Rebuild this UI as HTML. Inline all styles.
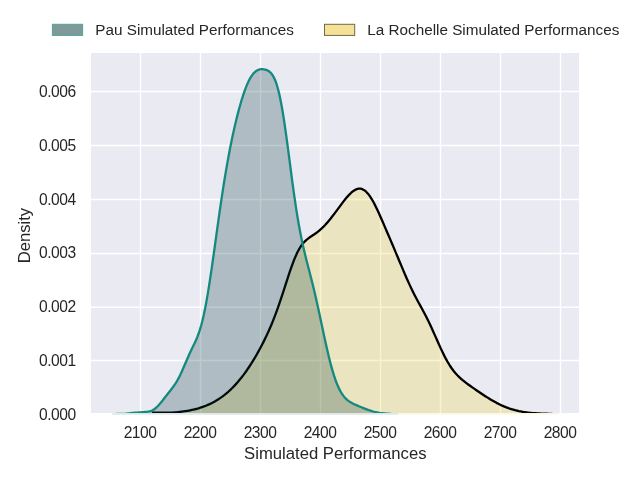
<!DOCTYPE html>
<html lang="en">
<head>
<meta charset="utf-8">
<title>Simulated Performances density</title>
<style>
html,body{margin:0;padding:0;background:#fff;}
body{width:640px;height:480px;overflow:hidden;}
svg{display:block;}
svg text{font-family:"Liberation Sans","DejaVu Sans",sans-serif;fill:#262626;}
.tick text{font-size:15.6px;}
.lab{font-size:16.67px;}
.leg text{font-size:15.28px;}
.grid line{stroke:#fff;stroke-width:1.39;}
</style>
</head>
<body>
<svg width="640" height="480" viewBox="0 0 640 480">
<rect x="0" y="0" width="640" height="480" fill="#ffffff"/>
<rect x="91" y="53" width="488" height="360.0" fill="#eaeaf2"/>
<g class="grid"><line x1="140.5" y1="53" x2="140.5" y2="413.0"/><line x1="200.5" y1="53" x2="200.5" y2="413.0"/><line x1="260.5" y1="53" x2="260.5" y2="413.0"/><line x1="320.5" y1="53" x2="320.5" y2="413.0"/><line x1="380.5" y1="53" x2="380.5" y2="413.0"/><line x1="440.5" y1="53" x2="440.5" y2="413.0"/><line x1="500.5" y1="53" x2="500.5" y2="413.0"/><line x1="560.5" y1="53" x2="560.5" y2="413.0"/><line x1="91" y1="360.5" x2="579" y2="360.5"/><line x1="91" y1="307.3" x2="579" y2="307.3"/><line x1="91" y1="253.5" x2="579" y2="253.5"/><line x1="91" y1="199.5" x2="579" y2="199.5"/><line x1="91" y1="145.5" x2="579" y2="145.5"/><line x1="91" y1="91.5" x2="579" y2="91.5"/></g>
<clipPath id="axclip"><rect x="91" y="53" width="488" height="360.0"/></clipPath>
<line x1="112.3" y1="413.95" x2="150" y2="413.95" stroke="#dbe9e7" stroke-width="1.7"/>
<line x1="150" y1="413.95" x2="398.2" y2="413.95" stroke="#dfe7ea" stroke-width="1.7"/>
<line x1="398.2" y1="413.95" x2="558.5" y2="413.95" stroke="#fcf8e6" stroke-width="1.7"/>
<g clip-path="url(#axclip)">
<path d="M150.00,413.69 L151.86,413.65 L153.73,413.60 L155.59,413.55 L157.45,413.49 L159.32,413.42 L161.18,413.35 L163.04,413.26 L164.90,413.17 L166.77,413.06 L168.63,412.95 L170.49,412.82 L172.36,412.68 L174.22,412.52 L176.08,412.34 L177.95,412.15 L179.81,411.93 L181.67,411.70 L183.53,411.44 L185.40,411.16 L187.26,410.85 L189.12,410.51 L190.99,410.13 L192.85,409.73 L194.71,409.28 L196.58,408.80 L198.44,408.28 L200.30,407.71 L202.16,407.09 L204.03,406.43 L205.89,405.71 L207.75,404.93 L209.62,404.10 L211.48,403.20 L213.34,402.23 L215.21,401.20 L217.07,400.09 L218.93,398.91 L220.79,397.65 L222.66,396.31 L224.52,394.88 L226.38,393.37 L228.25,391.76 L230.11,390.06 L231.97,388.27 L233.84,386.37 L235.70,384.38 L237.56,382.28 L239.42,380.08 L241.29,377.77 L243.15,375.36 L245.01,372.84 L246.88,370.22 L248.74,367.48 L250.60,364.64 L252.47,361.69 L254.33,358.64 L256.19,355.47 L258.05,352.19 L259.92,348.79 L261.78,345.28 L263.64,341.62 L265.51,337.83 L267.37,333.88 L269.23,329.75 L271.10,325.43 L272.96,320.89 L274.82,316.13 L276.68,311.13 L278.55,305.90 L280.41,300.45 L282.27,294.83 L284.14,289.09 L286.00,283.29 L287.86,277.53 L289.73,271.92 L291.59,266.55 L293.45,261.53 L295.32,256.94 L297.18,252.84 L299.04,249.27 L300.90,246.22 L302.77,243.67 L304.63,241.56 L306.49,239.81 L308.36,238.33 L310.22,237.02 L312.08,235.79 L313.95,234.57 L315.81,233.29 L317.67,231.91 L319.53,230.40 L321.40,228.73 L323.26,226.92 L325.12,224.97 L326.99,222.89 L328.85,220.69 L330.71,218.40 L332.58,216.03 L334.44,213.59 L336.30,211.11 L338.16,208.61 L340.03,206.09 L341.89,203.61 L343.75,201.17 L345.62,198.82 L347.48,196.61 L349.34,194.56 L351.21,192.74 L353.07,191.19 L354.93,189.97 L356.79,189.11 L358.66,188.67 L360.52,188.69 L362.38,189.18 L364.25,190.18 L366.11,191.68 L367.97,193.67 L369.84,196.13 L371.70,199.01 L373.56,202.28 L375.42,205.88 L377.29,209.73 L379.15,213.79 L381.01,217.98 L382.88,222.26 L384.74,226.59 L386.60,230.95 L388.47,235.31 L390.33,239.67 L392.19,244.04 L394.05,248.42 L395.92,252.83 L397.78,257.26 L399.64,261.71 L401.51,266.15 L403.37,270.58 L405.23,274.94 L407.10,279.22 L408.96,283.37 L410.82,287.37 L412.68,291.21 L414.55,294.90 L416.41,298.46 L418.27,301.92 L420.14,305.33 L422.00,308.74 L423.86,312.21 L425.73,315.78 L427.59,319.48 L429.45,323.32 L431.32,327.31 L433.18,331.42 L435.04,335.61 L436.90,339.83 L438.77,344.02 L440.63,348.14 L442.49,352.10 L444.36,355.88 L446.22,359.43 L448.08,362.72 L449.95,365.74 L451.81,368.50 L453.67,370.99 L455.53,373.25 L457.40,375.29 L459.26,377.15 L461.12,378.86 L462.99,380.45 L464.85,381.94 L466.71,383.35 L468.58,384.72 L470.44,386.05 L472.30,387.36 L474.16,388.65 L476.03,389.93 L477.89,391.20 L479.75,392.47 L481.62,393.72 L483.48,394.96 L485.34,396.18 L487.21,397.38 L489.07,398.55 L490.93,399.68 L492.79,400.78 L494.66,401.84 L496.52,402.86 L498.38,403.82 L500.25,404.74 L502.11,405.61 L503.97,406.42 L505.84,407.18 L507.70,407.88 L509.56,408.54 L511.42,409.14 L513.29,409.69 L515.15,410.20 L517.01,410.65 L518.88,411.07 L520.74,411.44 L522.60,411.77 L524.47,412.07 L526.33,412.33 L528.19,412.57 L530.05,412.77 L531.92,412.95 L533.78,413.11 L535.64,413.24 L537.51,413.36 L539.37,413.46 L541.23,413.55 L543.10,413.62 L544.96,413.69 L546.82,413.74 L548.68,413.79 L550.55,413.82 L552.41,413.85 L554.27,413.88 L556.14,413.90 L558.00,413.92 L558.00,414.0 L150.00,414.0 Z" fill="#f0d22e" fill-opacity="0.25" stroke="none"/>
<path d="M151.86,412.70 L153.73,412.70 L155.59,412.70 L157.45,412.70 L159.32,412.70 L161.18,412.70 L163.04,412.70 L164.90,412.70 L166.77,412.70 L168.63,412.70 L170.49,412.70 L172.36,412.68 L174.22,412.52 L176.08,412.34 L177.95,412.15 L179.81,411.93 L181.67,411.70 L183.53,411.44 L185.40,411.16 L187.26,410.85 L189.12,410.51 L190.99,410.13 L192.85,409.73 L194.71,409.28 L196.58,408.80 L198.44,408.28 L200.30,407.71 L202.16,407.09 L204.03,406.43 L205.89,405.71 L207.75,404.93 L209.62,404.10 L211.48,403.20 L213.34,402.23 L215.21,401.20 L217.07,400.09 L218.93,398.91 L220.79,397.65 L222.66,396.31 L224.52,394.88 L226.38,393.37 L228.25,391.76 L230.11,390.06 L231.97,388.27 L233.84,386.37 L235.70,384.38 L237.56,382.28 L239.42,380.08 L241.29,377.77 L243.15,375.36 L245.01,372.84 L246.88,370.22 L248.74,367.48 L250.60,364.64 L252.47,361.69 L254.33,358.64 L256.19,355.47 L258.05,352.19 L259.92,348.79 L261.78,345.28 L263.64,341.62 L265.51,337.83 L267.37,333.88 L269.23,329.75 L271.10,325.43 L272.96,320.89 L274.82,316.13 L276.68,311.13 L278.55,305.90 L280.41,300.45 L282.27,294.83 L284.14,289.09 L286.00,283.29 L287.86,277.53 L289.73,271.92 L291.59,266.55 L293.45,261.53 L295.32,256.94 L297.18,252.84 L299.04,249.27 L300.90,246.22 L302.77,243.67 L304.63,241.56 L306.49,239.81 L308.36,238.33 L310.22,237.02 L312.08,235.79 L313.95,234.57 L315.81,233.29 L317.67,231.91 L319.53,230.40 L321.40,228.73 L323.26,226.92 L325.12,224.97 L326.99,222.89 L328.85,220.69 L330.71,218.40 L332.58,216.03 L334.44,213.59 L336.30,211.11 L338.16,208.61 L340.03,206.09 L341.89,203.61 L343.75,201.17 L345.62,198.82 L347.48,196.61 L349.34,194.56 L351.21,192.74 L353.07,191.19 L354.93,189.97 L356.79,189.11 L358.66,188.67 L360.52,188.69 L362.38,189.18 L364.25,190.18 L366.11,191.68 L367.97,193.67 L369.84,196.13 L371.70,199.01 L373.56,202.28 L375.42,205.88 L377.29,209.73 L379.15,213.79 L381.01,217.98 L382.88,222.26 L384.74,226.59 L386.60,230.95 L388.47,235.31 L390.33,239.67 L392.19,244.04 L394.05,248.42 L395.92,252.83 L397.78,257.26 L399.64,261.71 L401.51,266.15 L403.37,270.58 L405.23,274.94 L407.10,279.22 L408.96,283.37 L410.82,287.37 L412.68,291.21 L414.55,294.90 L416.41,298.46 L418.27,301.92 L420.14,305.33 L422.00,308.74 L423.86,312.21 L425.73,315.78 L427.59,319.48 L429.45,323.32 L431.32,327.31 L433.18,331.42 L435.04,335.61 L436.90,339.83 L438.77,344.02 L440.63,348.14 L442.49,352.10 L444.36,355.88 L446.22,359.43 L448.08,362.72 L449.95,365.74 L451.81,368.50 L453.67,370.99 L455.53,373.25 L457.40,375.29 L459.26,377.15 L461.12,378.86 L462.99,380.45 L464.85,381.94 L466.71,383.35 L468.58,384.72 L470.44,386.05 L472.30,387.36 L474.16,388.65 L476.03,389.93 L477.89,391.20 L479.75,392.47 L481.62,393.72 L483.48,394.96 L485.34,396.18 L487.21,397.38 L489.07,398.55 L490.93,399.68 L492.79,400.78 L494.66,401.84 L496.52,402.86 L498.38,403.82 L500.25,404.74 L502.11,405.61 L503.97,406.42 L505.84,407.18 L507.70,407.88 L509.56,408.54 L511.42,409.14 L513.29,409.69 L515.15,410.20 L517.01,410.65 L518.88,411.07 L520.74,411.44 L522.60,411.77 L524.47,412.07 L526.33,412.33 L528.19,412.57 L530.05,412.77 L531.92,412.95 L533.78,413.07 L535.64,413.19 L537.51,413.31 L539.37,413.43 L541.23,413.55 L543.10,413.62 L544.96,413.69 L546.82,413.74 L548.68,413.79 L550.55,413.82 L552.41,413.85" fill="none" stroke="#000000" stroke-width="2.3" stroke-linejoin="round" stroke-linecap="butt"/>
<path d="M112.50,414.00 L113.80,414.00 L115.11,413.99 L116.41,413.99 L117.71,413.98 L119.02,413.96 L120.32,413.94 L121.63,413.90 L122.93,413.85 L124.23,413.78 L125.54,413.69 L126.84,413.57 L128.14,413.43 L129.45,413.28 L130.75,413.13 L132.05,412.97 L133.36,412.83 L134.66,412.71 L135.97,412.61 L137.27,412.54 L138.57,412.47 L139.88,412.39 L141.18,412.29 L142.48,412.16 L143.79,412.02 L145.09,411.89 L146.39,411.79 L147.70,411.67 L149.00,411.49 L150.31,411.19 L151.61,410.72 L152.91,410.07 L154.22,409.23 L155.52,408.22 L156.82,407.05 L158.13,405.73 L159.43,404.30 L160.74,402.77 L162.04,401.16 L163.34,399.51 L164.65,397.83 L165.95,396.15 L167.25,394.48 L168.56,392.82 L169.86,391.17 L171.16,389.50 L172.47,387.79 L173.77,386.00 L175.08,384.10 L176.38,382.05 L177.68,379.82 L178.99,377.40 L180.29,374.79 L181.59,372.01 L182.90,369.09 L184.20,366.07 L185.50,363.01 L186.81,359.97 L188.11,356.99 L189.42,354.09 L190.72,351.29 L192.02,348.57 L193.33,345.87 L194.63,343.14 L195.93,340.28 L197.24,337.19 L198.54,333.76 L199.84,329.90 L201.15,325.52 L202.45,320.55 L203.76,314.95 L205.06,308.71 L206.36,301.85 L207.67,294.39 L208.97,286.40 L210.27,277.94 L211.58,269.12 L212.88,260.01 L214.18,250.72 L215.49,241.33 L216.79,231.93 L218.10,222.60 L219.40,213.41 L220.70,204.42 L222.01,195.66 L223.31,187.19 L224.61,179.02 L225.92,171.16 L227.22,163.64 L228.53,156.43 L229.83,149.55 L231.13,142.97 L232.44,136.70 L233.74,130.71 L235.04,124.99 L236.35,119.54 L237.65,114.35 L238.95,109.41 L240.26,104.72 L241.56,100.29 L242.87,96.12 L244.17,92.23 L245.47,88.63 L246.78,85.33 L248.08,82.34 L249.38,79.68 L250.69,77.34 L251.99,75.33 L253.29,73.64 L254.60,72.26 L255.90,71.17 L257.21,70.35 L258.51,69.77 L259.81,69.40 L261.12,69.21 L262.42,69.17 L263.72,69.28 L265.03,69.52 L266.33,69.91 L267.63,70.47 L268.94,71.25 L270.24,72.31 L271.55,73.72 L272.85,75.58 L274.15,77.97 L275.46,80.98 L276.76,84.71 L278.06,89.21 L279.37,94.54 L280.67,100.72 L281.97,107.72 L283.28,115.50 L284.58,123.99 L285.89,133.07 L287.19,142.61 L288.49,152.46 L289.80,162.46 L291.10,172.45 L292.40,182.28 L293.71,191.82 L295.01,200.95 L296.32,209.61 L297.62,217.73 L298.92,225.30 L300.23,232.33 L301.53,238.85 L302.83,244.92 L304.14,250.61 L305.44,256.01 L306.74,261.21 L308.05,266.28 L309.35,271.32 L310.66,276.38 L311.96,281.54 L313.26,286.82 L314.57,292.27 L315.87,297.87 L317.17,303.65 L318.48,309.56 L319.78,315.59 L321.08,321.69 L322.39,327.81 L323.69,333.92 L325.00,339.94 L326.30,345.83 L327.60,351.53 L328.91,357.00 L330.21,362.21 L331.51,367.10 L332.82,371.67 L334.12,375.88 L335.42,379.74 L336.73,383.22 L338.03,386.35 L339.34,389.14 L340.64,391.59 L341.94,393.74 L343.25,395.61 L344.55,397.22 L345.85,398.61 L347.16,399.82 L348.46,400.86 L349.76,401.76 L351.07,402.56 L352.37,403.28 L353.68,403.94 L354.98,404.55 L356.28,405.13 L357.59,405.68 L358.89,406.23 L360.19,406.77 L361.50,407.30 L362.80,407.82 L364.11,408.34 L365.41,408.85 L366.71,409.34 L368.02,409.82 L369.32,410.27 L370.62,410.71 L371.93,411.11 L373.23,411.49 L374.53,411.83 L375.84,412.14 L377.14,412.42 L378.45,412.67 L379.75,412.89 L381.05,413.08 L382.36,413.25 L383.66,413.39 L384.96,413.51 L386.27,413.61 L387.57,413.69 L388.87,413.76 L390.18,413.81 L391.48,413.85 L392.79,413.89 L394.09,413.91 L395.39,413.94 L396.70,413.95 L398.00,413.96 L398.00,414.0 L112.50,414.0 Z" fill="#003538" fill-opacity="0.25" stroke="none"/>
<path d="M116.41,413.99 L117.71,413.98 L119.02,413.96 L120.32,413.94 L121.63,413.90 L122.93,413.85 L124.23,413.78 L125.54,413.69 L126.84,413.57 L128.14,413.43 L129.45,413.28 L130.75,413.13 L132.05,412.97 L133.36,412.83 L134.66,412.71 L135.97,412.61 L137.27,412.54 L138.57,412.47 L139.88,412.39 L141.18,412.29 L142.48,412.16 L143.79,412.02 L145.09,411.89 L146.39,411.79 L147.70,411.67 L149.00,411.49 L150.31,411.19 L151.61,410.72 L152.91,410.07 L154.22,409.23 L155.52,408.22 L156.82,407.05 L158.13,405.73 L159.43,404.30 L160.74,402.77 L162.04,401.16 L163.34,399.51 L164.65,397.83 L165.95,396.15 L167.25,394.48 L168.56,392.82 L169.86,391.17 L171.16,389.50 L172.47,387.79 L173.77,386.00 L175.08,384.10 L176.38,382.05 L177.68,379.82 L178.99,377.40 L180.29,374.79 L181.59,372.01 L182.90,369.09 L184.20,366.07 L185.50,363.01 L186.81,359.97 L188.11,356.99 L189.42,354.09 L190.72,351.29 L192.02,348.57 L193.33,345.87 L194.63,343.14 L195.93,340.28 L197.24,337.19 L198.54,333.76 L199.84,329.90 L201.15,325.52 L202.45,320.55 L203.76,314.95 L205.06,308.71 L206.36,301.85 L207.67,294.39 L208.97,286.40 L210.27,277.94 L211.58,269.12 L212.88,260.01 L214.18,250.72 L215.49,241.33 L216.79,231.93 L218.10,222.60 L219.40,213.41 L220.70,204.42 L222.01,195.66 L223.31,187.19 L224.61,179.02 L225.92,171.16 L227.22,163.64 L228.53,156.43 L229.83,149.55 L231.13,142.97 L232.44,136.70 L233.74,130.71 L235.04,124.99 L236.35,119.54 L237.65,114.35 L238.95,109.41 L240.26,104.72 L241.56,100.29 L242.87,96.12 L244.17,92.23 L245.47,88.63 L246.78,85.33 L248.08,82.34 L249.38,79.68 L250.69,77.34 L251.99,75.33 L253.29,73.64 L254.60,72.26 L255.90,71.17 L257.21,70.35 L258.51,69.77 L259.81,69.40 L261.12,69.21 L262.42,69.17 L263.72,69.28 L265.03,69.52 L266.33,69.91 L267.63,70.47 L268.94,71.25 L270.24,72.31 L271.55,73.72 L272.85,75.58 L274.15,77.97 L275.46,80.98 L276.76,84.71 L278.06,89.21 L279.37,94.54 L280.67,100.72 L281.97,107.72 L283.28,115.50 L284.58,123.99 L285.89,133.07 L287.19,142.61 L288.49,152.46 L289.80,162.46 L291.10,172.45 L292.40,182.28 L293.71,191.82 L295.01,200.95 L296.32,209.61 L297.62,217.73 L298.92,225.30 L300.23,232.33 L301.53,238.85 L302.83,244.92 L304.14,250.61 L305.44,256.01 L306.74,261.21 L308.05,266.28 L309.35,271.32 L310.66,276.38 L311.96,281.54 L313.26,286.82 L314.57,292.27 L315.87,297.87 L317.17,303.65 L318.48,309.56 L319.78,315.59 L321.08,321.69 L322.39,327.81 L323.69,333.92 L325.00,339.94 L326.30,345.83 L327.60,351.53 L328.91,357.00 L330.21,362.21 L331.51,367.10 L332.82,371.67 L334.12,375.88 L335.42,379.74 L336.73,383.22 L338.03,386.35 L339.34,389.14 L340.64,391.59 L341.94,393.74 L343.25,395.61 L344.55,397.22 L345.85,398.61 L347.16,399.82 L348.46,400.86 L349.76,401.76 L351.07,402.56 L352.37,403.28 L353.68,403.94 L354.98,404.55 L356.28,405.13 L357.59,405.68 L358.89,406.23 L360.19,406.77 L361.50,407.30 L362.80,407.82 L364.11,408.34 L365.41,408.85 L366.71,409.34 L368.02,409.82 L369.32,410.27 L370.62,410.71 L371.93,411.11 L373.23,411.49 L374.53,411.83 L375.84,412.14 L377.14,412.42 L378.45,412.67 L379.75,412.89 L381.05,413.08 L382.36,413.25 L383.66,413.39 L384.96,413.51 L386.27,413.61 L387.57,413.69 L388.87,413.76 L390.18,413.81 L391.48,413.85" fill="none" stroke="#14897f" stroke-width="2.3" stroke-linejoin="round" stroke-linecap="butt"/>
</g>
<g class="tick"><text x="140.00" y="438.30" text-anchor="middle" letter-spacing="-0.5">2100</text><text x="200.00" y="438.30" text-anchor="middle" letter-spacing="-0.5">2200</text><text x="260.00" y="438.30" text-anchor="middle" letter-spacing="-0.5">2300</text><text x="320.00" y="438.30" text-anchor="middle" letter-spacing="-0.5">2400</text><text x="380.00" y="438.30" text-anchor="middle" letter-spacing="-0.5">2500</text><text x="440.00" y="438.30" text-anchor="middle" letter-spacing="-0.5">2600</text><text x="500.00" y="438.30" text-anchor="middle" letter-spacing="-0.5">2700</text><text x="560.00" y="438.30" text-anchor="middle" letter-spacing="-0.5">2800</text><text x="75.60" y="419.90" text-anchor="end" letter-spacing="-0.5">0.000</text><text x="75.60" y="366.08" text-anchor="end" letter-spacing="-0.5">0.001</text><text x="75.60" y="312.26" text-anchor="end" letter-spacing="-0.5">0.002</text><text x="75.60" y="258.44" text-anchor="end" letter-spacing="-0.5">0.003</text><text x="75.60" y="204.62" text-anchor="end" letter-spacing="-0.5">0.004</text><text x="75.60" y="150.80" text-anchor="end" letter-spacing="-0.5">0.005</text><text x="75.60" y="96.98" text-anchor="end" letter-spacing="-0.5">0.006</text></g>
<text class="lab" x="335.30" y="458.80" text-anchor="middle">Simulated Performances</text>
<text class="lab" transform="translate(30.20,235.60) rotate(-90)" text-anchor="middle">Density</text>
<g class="leg">
<rect x="52.4" y="24.3" width="30.2" height="11.1" fill="#7f9999" stroke="#4fa59c" stroke-width="1.0"/>
<text x="95.30" y="34.80">Pau Simulated Performances</text>
<rect x="324.5" y="24.3" width="30.2" height="11.1" fill="#f5e296" stroke="#6e6a4a" stroke-width="1.0"/>
<text x="367.30" y="34.80">La Rochelle Simulated Performances</text>
</g>
</svg>
</body>
</html>
